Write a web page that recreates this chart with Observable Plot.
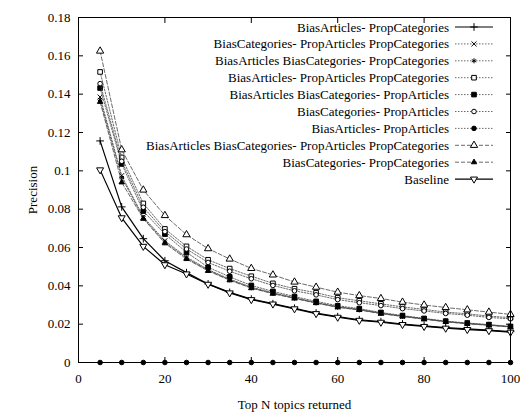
<!DOCTYPE html>
<html><head><meta charset="utf-8">
<script src="https://cdn.jsdelivr.net/npm/d3@7"></script>
<script src="https://cdn.jsdelivr.net/npm/@observablehq/plot@0.6"></script>
<style>body{margin:0;background:#fff} svg{display:block}</style>
</head><body><div id="chart"></div>
<script>
const topN = [5,10,15,20,25,30,35,40,45,50,55,60,65,70,75,80,85,90,95,100];
const seriesNames = [
  "BiasArticles- PropCategories",
  "BiasCategories- PropArticles PropCategories",
  "BiasArticles BiasCategories- PropCategories",
  "BiasArticles- PropArticles PropCategories",
  "BiasArticles BiasCategories- PropArticles",
  "BiasCategories- PropArticles",
  "BiasArticles- PropArticles",
  "BiasArticles BiasCategories- PropArticles PropCategories",
  "BiasCategories- PropCategories",
  "Baseline"
];
const biasArtPropCat = [0.1156,0.0812,0.0646,0.0531,0.0469,0.0410,0.0366,0.0331,0.0307,0.0283,0.0258,0.0239,0.0223,0.0213,0.0201,0.0191,0.0182,0.0175,0.0169,0.0161];
const biasCatPropArtPropCat = [0.1385,0.0975,0.0760,0.0635,0.0550,0.0485,0.0435,0.0393,0.0364,0.0338,0.0313,0.0291,0.0277,0.0258,0.0242,0.0228,0.0214,0.0204,0.0196,0.0187];
const biasArtBiasCatPropCat = [0.1372,0.0965,0.0755,0.0628,0.0545,0.0481,0.0432,0.0390,0.0361,0.0336,0.0311,0.0289,0.0275,0.0256,0.0241,0.0227,0.0213,0.0203,0.0195,0.0186];
const biasArtPropArtPropCat = [0.1516,0.1070,0.0830,0.0697,0.0606,0.0536,0.0490,0.0450,0.0413,0.0385,0.0364,0.0338,0.0322,0.0306,0.0290,0.0277,0.0263,0.0254,0.0242,0.0234];
const biasArtBiasCatPropArt = [0.1432,0.1036,0.0790,0.0670,0.0575,0.0497,0.0447,0.0402,0.0371,0.0344,0.0319,0.0296,0.0281,0.0261,0.0245,0.0230,0.0216,0.0206,0.0198,0.0188];
const biasCatPropArt = [0.1455,0.1050,0.0810,0.0683,0.0592,0.0522,0.0476,0.0437,0.0402,0.0374,0.0353,0.0328,0.0312,0.0297,0.0281,0.0269,0.0256,0.0247,0.0235,0.0228];
const biasArtPropArt = [0,0,0,0,0,0,0,0,0,0,0,0,0,0,0,0,0,0,0,0];
const biasArtBiasCatPropArtPropCat = [0.1625,0.1110,0.0900,0.0767,0.0667,0.0594,0.0540,0.0491,0.0457,0.0420,0.0393,0.0367,0.0349,0.0334,0.0315,0.0300,0.0287,0.0275,0.0263,0.0251];
const biasCatPropCat = [0.1360,0.0940,0.0750,0.0622,0.0540,0.0478,0.0429,0.0388,0.0359,0.0334,0.0310,0.0288,0.0274,0.0255,0.0240,0.0226,0.0212,0.0202,0.0194,0.0185];
const baseline = [0.1005,0.0755,0.0606,0.0510,0.0462,0.0408,0.0363,0.0328,0.0305,0.0280,0.0255,0.0236,0.0220,0.0210,0.0198,0.0188,0.0179,0.0172,0.0166,0.0158];

const xTicks = [0,20,40,60,80,100];
const yTicks = [0,0.02,0.04,0.06,0.08,0.1,0.12,0.14,0.16,0.18];
const yTickLabels = ["0","0.02","0.04","0.06","0.08","0.1","0.12","0.14","0.16","0.18"];
const xLabel = "Top N topics returned";
const yLabel = "Precision";

const seriesValues = [biasArtPropCat,biasCatPropArtPropCat,biasArtBiasCatPropCat,biasArtPropArtPropCat,biasArtBiasCatPropArt,biasCatPropArt,biasArtPropArt,biasArtBiasCatPropArtPropCat,biasCatPropCat,baseline];

// styles (separate from data)
const DOT = "1.5,1.5", DASH = "4,2";
const styles = [
  {sym:"plus", d3sym:d3.symbolPlus, fill:"none", r:2.6, line:"#000", lw:1.2, dash:null},
  {sym:"times", d3sym:d3.symbolTimes, fill:"none", r:2.4, line:"#444", lw:0.8, dash:DOT},
  {sym:"asterisk", d3sym:d3.symbolAsterisk, fill:"none", r:2.4, line:"#444", lw:0.8, dash:DOT},
  {sym:"square", d3sym:d3.symbolSquare, fill:"#fff", r:2.6, line:"#444", lw:0.8, dash:DOT},
  {sym:"square", d3sym:d3.symbolSquare, fill:"#000", r:2.6, line:"#444", lw:0.8, dash:DOT},
  {sym:"circle", d3sym:d3.symbolCircle, fill:"#fff", r:2.3, line:"#444", lw:0.8, dash:DOT},
  {sym:"circle", d3sym:d3.symbolCircle, fill:"#000", r:2.3, line:"#444", lw:0.8, dash:DOT},
  {sym:"triangle", d3sym:d3.symbolTriangle, fill:"#fff", r:2.7, line:"#444", lw:0.8, dash:DASH},
  {sym:"triangle", d3sym:d3.symbolTriangle, fill:"#000", r:2.0, line:"#444", lw:0.8, dash:DASH},
  {sym:"triangle", d3sym:d3.symbolTriangle, fill:"#fff", r:2.6, line:"#000", lw:1.2, dash:null, rot:180}
];

const table = seriesNames.flatMap((name, i) => topN.map((n, j) => ({series: name, idx: i, n, v: seriesValues[i][j]})));

const font = "'Liberation Serif', 'Times New Roman', Times, serif";
const marks = [
  Plot.axisX({ticks: xTicks, tickSize: 0, tickPadding: 11, tickFormat: d => String(d), label: xLabel, labelAnchor: "center", labelArrow: "none", labelOffset: 46}),
  Plot.axisY({ticks: yTicks, tickSize: 0, tickPadding: 8, tickFormat: d => yTickLabels[yTicks.indexOf(d)], label: yLabel, labelAnchor: "center", labelArrow: "none", labelOffset: 51}),
  Plot.axisX({ticks: xTicks, anchor: "bottom", tickSize: 5, dy: -5, text: null, label: null}),
  Plot.axisX({ticks: xTicks, anchor: "top", tickSize: 5, dy: 5, text: null, label: null}),
  Plot.axisY({ticks: yTicks, anchor: "left", tickSize: 5, dx: 5, text: null, label: null}),
  Plot.axisY({ticks: yTicks, anchor: "right", tickSize: 5, dx: -5, text: null, label: null})
];
seriesNames.forEach((name, i) => {
  const s = styles[i];
  const data = table.filter(d => d.idx === i);
  marks.push(Plot.line(data, {x: "n", y: "v", stroke: s.line, strokeWidth: s.lw, strokeDasharray: s.dash}));
  marks.push(Plot.dot(data, {x: "n", y: "v", symbol: s.sym, r: s.r, fill: s.fill, stroke: "#000", strokeWidth: 1, rotate: s.rot || 0}));
});
marks.push(Plot.frame({stroke: "#000", strokeWidth: 1}));

const chart = Plot.plot({
  width: 520, height: 413,
  marginLeft: 78, marginRight: 10, marginTop: 17, marginBottom: 51,
  x: {domain: [0, 100]},
  y: {domain: [0, 0.18]},
  style: {fontFamily: font, fontSize: "13px", background: "#fff", color: "#000"},
  marks
});
document.getElementById("chart").appendChild(chart);

// legend inside the plot frame (top right), gnuplot style
const svg = d3.select(chart);
const lg = svg.append("g").attr("font-family", font).attr("font-size", 13);
seriesNames.forEach((name, i) => {
  const s = styles[i];
  const y = 27 + 16.9 * i;
  lg.append("text").attr("x", 449).attr("y", y).attr("dy", "0.35em").attr("text-anchor", "end").attr("fill", "#000").text(name);
  lg.append("line").attr("x1", 455).attr("x2", 493).attr("y1", y).attr("y2", y)
    .attr("stroke", s.line).attr("stroke-width", s.lw).attr("stroke-dasharray", s.dash);
  lg.append("path").attr("d", d3.symbol(s.d3sym, Math.PI * s.r * s.r)())
    .attr("transform", `translate(474,${y}) rotate(${s.rot || 0})`)
    .attr("fill", s.fill).attr("stroke", "#000").attr("stroke-width", 1);
});
</script></body></html>
